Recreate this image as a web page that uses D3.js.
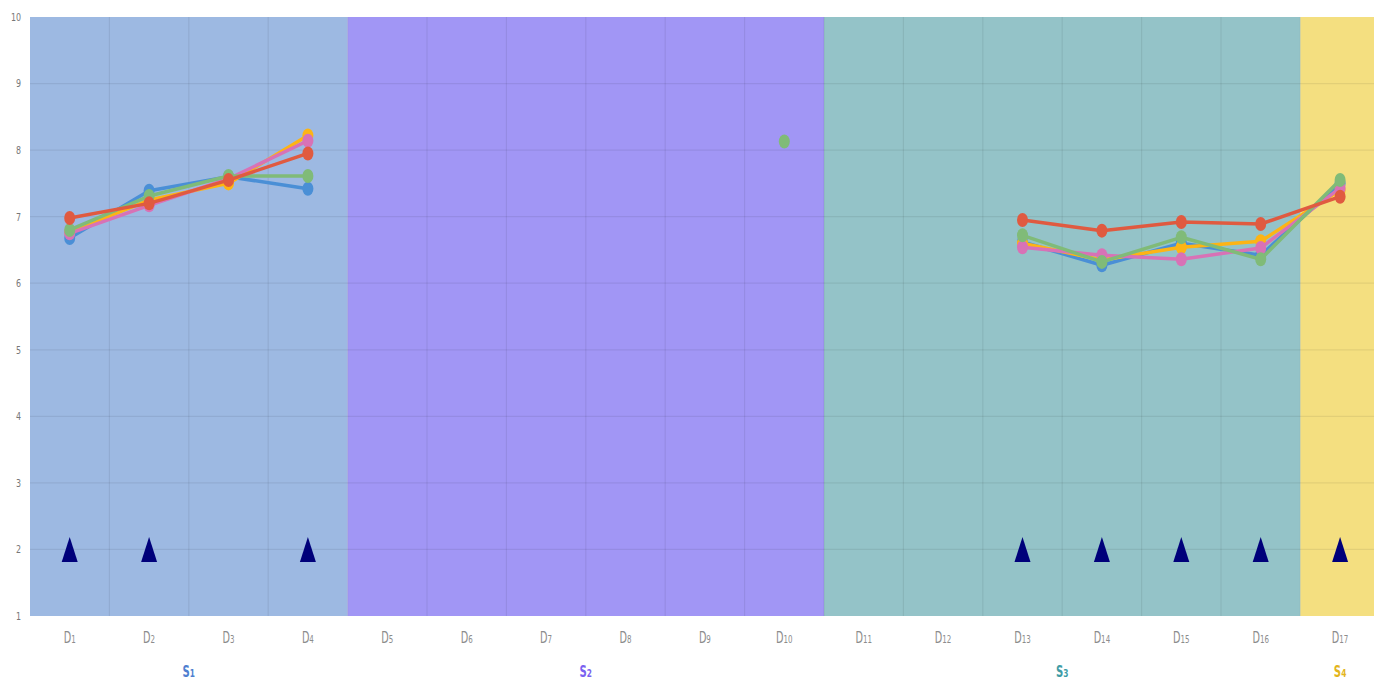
<!DOCTYPE html>
<html>
<head>
<meta charset="utf-8">
<script src="https://cdn.jsdelivr.net/npm/d3@7"></script>
<style>
  html, body { margin: 0; padding: 0; background: #fff; }
  svg { display: block; }
</style>
</head>
<body>
<svg id="chart" width="1374" height="679"></svg>
<script>
// categories and groups
const days = ["D1","D2","D3","D4","D5","D6","D7","D8","D9","D10","D11","D12","D13","D14","D15","D16","D17"];
const stages = [
  { name: "S1", from: "D1", to: "D4", fill: "#9db9e2", text: "#4f7fd0" },
  { name: "S2", from: "D5", to: "D10", fill: "#a196f5", text: "#7a62f0" },
  { name: "S3", from: "D11", to: "D16", fill: "#94c3c8", text: "#3f9ca6" },
  { name: "S4", from: "D17", to: "D17", fill: "#f4df80", text: "#e3b51c" }
];
const yTicks = [1,2,3,4,5,6,7,8,9,10];

// series values (null = no reading)
const blueVals   = [6.68,7.39,7.60,7.42,null,null,null,null,null,null,null,null,6.62,6.27,6.60,6.42,7.50];
const orangeVals = [6.77,7.25,7.50,8.22,null,null,null,null,null,null,null,null,6.60,6.35,6.54,6.63,7.40];
const pinkVals   = [6.75,7.17,7.57,8.14,null,null,null,null,null,null,null,null,6.54,6.42,6.36,6.53,7.43];
const greenVals  = [6.80,7.31,7.61,7.61,null,null,null,null,null,8.13,null,null,6.72,6.32,6.69,6.36,7.55];
const redVals    = [6.98,7.20,7.55,7.95,null,null,null,null,null,null,null,null,6.95,6.79,6.92,6.89,7.30];

const markerDays = ["D1","D2","D4","D13","D14","D15","D16","D17"];
const markerValue = 2;

const series = [
  { name: "blue", color: "#4a8fd6", values: blueVals },
  { name: "orange", color: "#fdb415", values: orangeVals },
  { name: "pink", color: "#d872b6", values: pinkVals },
  { name: "green", color: "#80bb78", values: greenVals },
  { name: "red", color: "#e05a40", values: redVals }
];

const svg = d3.select("#chart");
const plotLeft = 30, plotTop = 17, plotBottom = 616, band = 79.4;
const labelFont = "'Liberation Sans Narrow', 'DejaVu Sans Condensed', sans-serif";

const x = d3.scaleBand().domain(days).range([plotLeft, plotLeft + band * days.length]).padding(0);
const y = d3.scaleLinear().domain([1, 10]).range([plotBottom, plotTop]);

// stage backgrounds
svg.append("g")
  .selectAll("rect")
  .data(stages)
  .join("rect")
  .attr("x", d => x(d.from))
  .attr("y", y(10))
  .attr("width", d => x(d.to) + x.bandwidth() - x(d.from))
  .attr("height", y(1) - y(10))
  .attr("fill", d => d.fill);

// grid
const grid = svg.append("g").attr("stroke", "#000").attr("stroke-opacity", 0.07).attr("stroke-width", 1.2);
grid.selectAll("line.h")
  .data(yTicks.slice(1, -1))
  .join("line")
  .attr("class", "h")
  .attr("x1", plotLeft).attr("x2", 1374)
  .attr("y1", d => y(d)).attr("y2", d => y(d));
grid.selectAll("line.v")
  .data(days.slice(1))
  .join("line")
  .attr("class", "v")
  .attr("x1", d => x(d)).attr("x2", d => x(d))
  .attr("y1", y(10)).attr("y2", y(1));

// y axis labels
svg.append("g")
  .attr("font-family", labelFont)
  .attr("font-size", 11)
  .attr("fill", "#777")
  .selectAll("text")
  .data(yTicks)
  .join("text")
  .attr("transform", d => `translate(21,${y(d)}) scale(0.8,1)`)
  .attr("dy", "0.35em")
  .attr("text-anchor", "end")
  .text(d => d);

// x axis labels
const xl = svg.append("g")
  .attr("font-family", labelFont)
  .attr("fill", "#8c8c8c")
  .selectAll("text")
  .data(days)
  .join("text")
  .attr("transform", d => `translate(${x(d) + x.bandwidth() / 2},643) scale(0.72,1)`)
  .attr("text-anchor", "middle")
  .attr("font-size", 15);
xl.append("tspan").text("D");
xl.append("tspan").attr("font-size", 11).text(d => d.slice(1));

// stage labels
svg.append("g")
  .attr("font-family", labelFont)
  .attr("font-weight", "bold")
  .selectAll("text")
  .data(stages)
  .join("text")
  .attr("transform", d => `translate(${(x(d.from) + x(d.to) + x.bandwidth()) / 2},677) scale(0.75,1)`)
  .attr("text-anchor", "middle")
  .attr("fill", d => d.text)
  .each(function (d) {
    const t = d3.select(this);
    t.append("tspan").attr("font-size", 15).text(d.name[0]);
    t.append("tspan").attr("font-size", 11).text(d.name.slice(1));
  });

// lines and points
const line = d3.line()
  .defined(d => d.v !== null)
  .x(d => x(d.day) + x.bandwidth() / 2)
  .y(d => y(d.v));

series.forEach(s => {
  const pts = days.map((day, i) => ({ day: day, v: s.values[i] }));
  const g = svg.append("g");
  g.append("path")
    .datum(pts)
    .attr("fill", "none")
    .attr("stroke", s.color)
    .attr("stroke-width", 3.5)
    .attr("stroke-linejoin", "round")
    .attr("d", line);
  g.selectAll("ellipse")
    .data(pts.filter(d => d.v !== null))
    .join("ellipse")
    .attr("cx", d => x(d.day) + x.bandwidth() / 2)
    .attr("cy", d => y(d.v))
    .attr("rx", 5.5)
    .attr("ry", 7)
    .attr("fill", s.color);
});

// triangle markers
svg.append("g")
  .selectAll("path")
  .data(markerDays)
  .join("path")
  .attr("transform", d => `translate(${x(d) + x.bandwidth() / 2},${y(markerValue)})`)
  .attr("d", "M0,-12.5 L8,12.5 L-8,12.5 Z")
  .attr("fill", "#00007a");
</script>
</body>
</html>
